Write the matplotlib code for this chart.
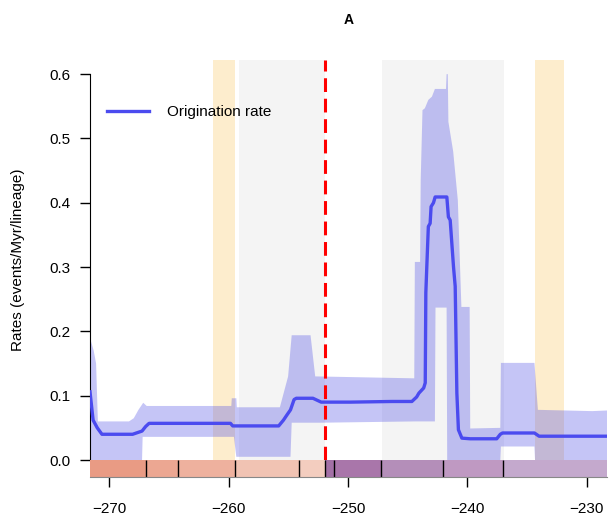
import numpy as np
import matplotlib
matplotlib.use("Agg")
import matplotlib.pyplot as plt

plt.rcParams['font.family'] = ['Liberation Sans', 'DejaVu Sans']

# ---- median origination rate (age in Ma, negative = past) ----
rate_age = [-271.62, -271.36, -271.01, -270.62, -268.05, -267.26, -266.96, -266.67,
            -259.85, -259.66, -255.81, -255.41, -255.12, -254.82, -254.52, -254.33,
            -252.94, -252.25, -249.78, -246.33, -244.65, -244.25, -244.06, -243.66,
            -243.53, -243.48, -243.40, -243.27, -243.12, -243.04, -242.84,
            -242.70, -241.72, -241.59, -241.44, -241.16, -241.02, -240.88,
            -240.75, -240.46, -239.76, -237.54, -237.24, -237.05, -234.38,
            -233.99, -228.3]
rate_median = [0.106, 0.062, 0.050, 0.040, 0.040, 0.045, 0.052, 0.057,
               0.057, 0.053, 0.053, 0.062, 0.070, 0.078, 0.094, 0.096,
               0.096, 0.090, 0.090, 0.091, 0.091, 0.098, 0.104, 0.112,
               0.120, 0.260, 0.300, 0.363, 0.368, 0.394, 0.400,
               0.409, 0.409, 0.378, 0.373, 0.300, 0.270, 0.104,
               0.047, 0.034, 0.033, 0.033, 0.040, 0.042, 0.042,
               0.037, 0.037]

# ---- 95% HPD band ----
upper_age = [-271.62, -271.31, -271.11, -270.96, -268.35, -267.95, -267.56, -267.16,
             -266.87, -259.78, -259.74, -259.36, -259.32, -255.71, -255.02, -254.72,
             -253.14, -252.75, -244.45, -244.40, -243.96, -243.91, -243.76, -243.56,
             -243.27, -242.97, -242.72, -241.79, -241.74, -241.64, -241.59, -241.19,
             -240.80, -240.50, -239.81, -239.76, -237.24, -237.19, -234.38, -234.09,
             -229.54, -228.3]
upper = [0.19, 0.17, 0.15, 0.06, 0.06, 0.065, 0.078, 0.089,
         0.084, 0.084, 0.096, 0.096, 0.082, 0.082, 0.13, 0.194,
         0.194, 0.13, 0.127, 0.308, 0.308, 0.435, 0.544, 0.547,
         0.56, 0.565, 0.577, 0.577, 0.60, 0.60, 0.526, 0.48,
         0.404, 0.238, 0.238, 0.049, 0.05, 0.151, 0.151, 0.078,
         0.076, 0.077]
lower_age = [-271.62, -267.26, -267.21, -259.56, -259.36, -254.82, -254.72, -252.25,
             -244.35, -242.72, -242.67, -241.74, -241.69, -237.24, -237.19, -234.38,
             -234.33, -228.3]
lower = [0.0, 0.0, 0.036, 0.036, 0.005, 0.005, 0.058, 0.058,
         0.06, 0.06, 0.237, 0.237, 0.0, 0.0, 0.021, 0.021,
         0.0, 0.0]

# ---- highlighted intervals ----
yellow_spans = [(-261.33, -259.49), (-234.35, -231.94)]
gray_spans = [(-259.13, -251.95), (-247.15, -236.95)]
boundary_pt = -251.9

# ---- geological stages ----
stage_bounds = [-273.0, -266.9, -264.28, -259.51, -254.14, -251.9,
                -251.2, -247.2, -242.0, -237.0, -227.0]
stage_colors = ['#e99b84', '#eca792', '#eeb19e', '#f1c3b3', '#f3cdbf',
                '#a370a6', '#a976aa', '#b48eb9', '#bf99c2', '#c4a9cd']

line_col = '#4b4bef'
x_lo, x_hi = -271.62, -228.3

fig = plt.figure(figsize=(6.1, 5.24), dpi=100)
ax = fig.add_axes([90 / 610, 1 - 460 / 524, 517 / 610, 400 / 524])
ts = fig.add_axes([90 / 610, 1 - 477 / 524, 517 / 610, 17 / 524], sharex=ax)

for a, b in yellow_spans:
    ax.axvspan(a, b, color='#fdedcd', lw=0, zorder=0)
for a, b in gray_spans:
    ax.axvspan(a, b, color='#f4f4f4', lw=0, zorder=0)

ax.fill(np.concatenate([upper_age, lower_age[::-1]]),
        np.concatenate([upper, lower[::-1]]),
        color='#4b4be6', alpha=0.32, lw=0, zorder=1)
ax.plot(rate_age, rate_median, color=line_col, lw=2.4, zorder=3,
        solid_joinstyle='round', label='Origination rate')
ax.axvline(boundary_pt, color='#ff0000', lw=2.2, ls=(0, (4.5, 2.2)), zorder=4)

ax.set_xlim(x_lo, x_hi)
ax.set_ylim(0, 0.622)
for s in ['top', 'right', 'bottom']:
    ax.spines[s].set_visible(False)
ax.spines['left'].set_bounds(0, 0.6)
ax.set_yticks([0.0, 0.1, 0.2, 0.3, 0.4, 0.5, 0.6])
ax.set_yticklabels(['0.0', '0.1', '0.2', '0.3', '0.4', '0.5', '0.6'])
ax.tick_params(axis='y', direction='out', length=7, width=1, pad=7, labelsize=11)
ax.tick_params(axis='x', bottom=False, labelbottom=False)
ax.set_ylabel('Rates (events/Myr/lineage)', fontsize=11)
ax.yaxis.set_label_coords(-0.125, 0.5)

ax.legend(loc='center left', bbox_to_anchor=(0.033, 0.87), frameon=False,
          fontsize=11, handlelength=2.75, handletextpad=1.2, borderpad=0,
          borderaxespad=0)

# timescale bar
for i in range(len(stage_colors)):
    ts.axvspan(stage_bounds[i], stage_bounds[i + 1], color=stage_colors[i], lw=0)
ts.vlines(stage_bounds[1:-1], 0, 1, color='black', lw=1)
ts.set_ylim(0, 1)
ts.set_yticks([])
for s in ['top', 'right', 'left']:
    ts.spines[s].set_visible(False)
ts.spines['bottom'].set_color('#888888')
ts.spines['bottom'].set_linewidth(0.8)
ts.set_xticks([-270, -260, -250, -240, -230])
ts.set_xticklabels(['\u2212270', '\u2212260', '\u2212250', '\u2212240', '\u2212230'])
ts.tick_params(axis='x', direction='out', length=7, width=1, pad=11, labelsize=11)
ts.set_xlim(x_lo, x_hi)

fig.text(348.5 / 610, 1 - 20 / 524, 'A', ha='center', va='center',
         fontsize=10, fontweight='bold')

fig.savefig('out.png', dpi=100)
